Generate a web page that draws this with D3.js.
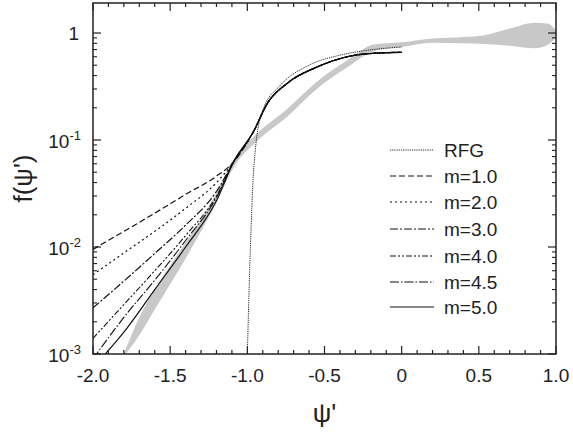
<!DOCTYPE html>
<html><head><meta charset="utf-8">
<script src="https://cdn.jsdelivr.net/npm/d3@7"></script>
<style>body{margin:0;background:#fff}text{font-family:"Liberation Sans",Arial,sans-serif;fill:#222}</style>
</head><body><svg id="c" width="573" height="436"></svg>
<script>
const xs = [-2.0,-1.8,-1.6,-1.4,-1.2,-1.09,-0.96,-0.87,-0.74,-0.55,-0.33,-0.15,0.0];
const upper = [0.12,0.22,0.34,0.48,0.61,0.65,0.66];
const m1 = [0.0095,0.014,0.0207,0.031,0.046,0.062].concat(upper);
const m2 = [0.0055,0.0088,0.014,0.023,0.040,0.062].concat(upper);
const m3 = [0.0027,0.0048,0.0087,0.016,0.033,0.062].concat(upper);
const m4 = [0.0014,0.0029,0.0060,0.0128,0.030,0.062].concat(upper);
const m45 = [0.0009,0.0022,0.0049,0.0115,0.029,0.062].concat(upper);
const m5 = [0.00075,0.0016,0.0040,0.010,0.027,0.062].concat(upper);
const rfgX = [-1.0,-0.98,-0.96,-0.95,-0.9,-0.79,-0.6,-0.4,-0.22,0.0];
const rfgY = [0.001,0.01,0.05,0.076,0.19,0.32,0.5,0.62,0.69,0.74];
const bandX = [-1.8,-1.7,-1.6,-1.4,-1.2,-1.09,-0.94,-0.74,-0.55,-0.35,-0.18,0,0.2,0.4,0.53,0.7,0.86,0.95,1.0];
const bandLo = [0.00095,0.0015,0.0026,0.0078,0.026,0.055,0.097,0.166,0.30,0.48,0.68,0.74,0.81,0.80,0.79,0.76,0.72,0.78,0.92];
const bandHi = [0.001,0.0022,0.0040,0.0110,0.032,0.066,0.114,0.196,0.35,0.56,0.78,0.82,0.89,0.92,0.95,1.1,1.25,1.22,1.05];
const xTicks = [-2.0,-1.5,-1.0,-0.5,0,0.5,1.0];
const yTicks = [-3,-2,-1,0];
const series = [
 {name:"RFG", x:rfgX, y:rfgY, dash:"1.2,1", w:0.9},
 {name:"m=1.0", x:xs, y:m1, dash:"6,3", w:1.2},
 {name:"m=2.0", x:xs, y:m2, dash:"2,3", w:1.2},
 {name:"m=3.0", x:xs, y:m3, dash:"8,2,2,2", w:1.2},
 {name:"m=4.0", x:xs, y:m4, dash:"6,2,2,2,2,2", w:1.1},
 {name:"m=4.5", x:xs, y:m45, dash:"9,2,1.5,2", w:1.1},
 {name:"m=5.0", x:xs, y:m5, dash:null, w:1.2}
];
const svg = d3.select("#c");
const L=93,R=556,T=3,B=354;
const x = d3.scaleLinear().domain([-2,1]).range([L,R]);
const y = d3.scaleLog().domain([0.001,Math.pow(10,(B-T)/107-3)]).range([B,T]);
svg.append("clipPath").attr("id","cp").append("rect").attr("x",L).attr("y",T).attr("width",R-L).attr("height",B-T);
const g = svg.append("g").attr("clip-path","url(#cp)");
g.append("path").datum(bandX.map((v,i)=>i))
 .attr("d", d3.area().x(i=>x(bandX[i])).y0(i=>y(bandLo[i])).y1(i=>y(bandHi[i])).curve(d3.curveMonotoneX))
 .attr("fill","#c8c8c8");
series.forEach(s=>{
 g.append("path").datum(s.x.map((v,i)=>i))
  .attr("d", d3.line().x(i=>x(s.x[i])).y(i=>y(s.y[i])).curve(d3.curveMonotoneX))
  .attr("fill","none").attr("stroke","#111").attr("stroke-width",s.w)
  .attr("stroke-dasharray",s.dash);
});
svg.append("rect").attr("x",L).attr("y",T).attr("width",R-L).attr("height",B-T).attr("fill","none").attr("stroke","#222").attr("stroke-width",1.5);
const minorX = d3.range(-2,1.001,0.1);
[[B,-1],[T,1]].forEach(([yy,dir])=>{
 minorX.forEach(v=>{const major=xTicks.some(t=>Math.abs(t-v)<1e-6);
  svg.append("line").attr("x1",x(v)).attr("x2",x(v)).attr("y1",yy).attr("y2",yy+dir*(major?8:4)).attr("stroke","#222").attr("stroke-width",1.2);});
});
xTicks.forEach(v=>svg.append("text").attr("x",x(v)).attr("y",B+28).attr("text-anchor","middle").attr("font-size",19).text(v===0?"0":v.toFixed(1)));
[[L,1],[R,-1]].forEach(([xx,dir])=>{
 yTicks.forEach(e=>{
  svg.append("line").attr("x1",xx).attr("x2",xx+dir*8).attr("y1",y(Math.pow(10,e))).attr("y2",y(Math.pow(10,e))).attr("stroke","#222").attr("stroke-width",1.2);
  if(e<0) for(let k=2;k<10;k++){const v=k*Math.pow(10,e);
   svg.append("line").attr("x1",xx).attr("x2",xx+dir*4).attr("y1",y(v)).attr("y2",y(v)).attr("stroke","#222").attr("stroke-width",1.1);}
 });
});
yTicks.forEach(e=>{
 const yy=y(Math.pow(10,e));
 if(e===0){svg.append("text").attr("x",L-14).attr("y",yy+7).attr("text-anchor","end").attr("font-size",19).text("1");return;}
 const t=svg.append("text").attr("x",L-12).attr("y",yy+8).attr("text-anchor","end").attr("font-size",19);
 t.append("tspan").text("10");
 t.append("tspan").attr("dy",-8).attr("font-size",13).text(String(e));
});
svg.append("text").attr("transform",`translate(32,${(T+B)/2}) rotate(-90)`).attr("text-anchor","middle").attr("font-size",26).text("f(ψ')");
svg.append("text").attr("x",(L+R)/2).attr("y",422).attr("text-anchor","middle").attr("font-size",26).text("ψ'");
const ly=[150,176,202,229,256,282,307];
series.forEach((s,i)=>{
 svg.append("line").attr("x1",390).attr("x2",434).attr("y1",ly[i]).attr("y2",ly[i]).attr("stroke","#111").attr("stroke-width",s.w).attr("stroke-dasharray",s.dash);
 svg.append("text").attr("x",444).attr("y",ly[i]+7).attr("font-size",19).text(s.name);
});
</script></body></html>
